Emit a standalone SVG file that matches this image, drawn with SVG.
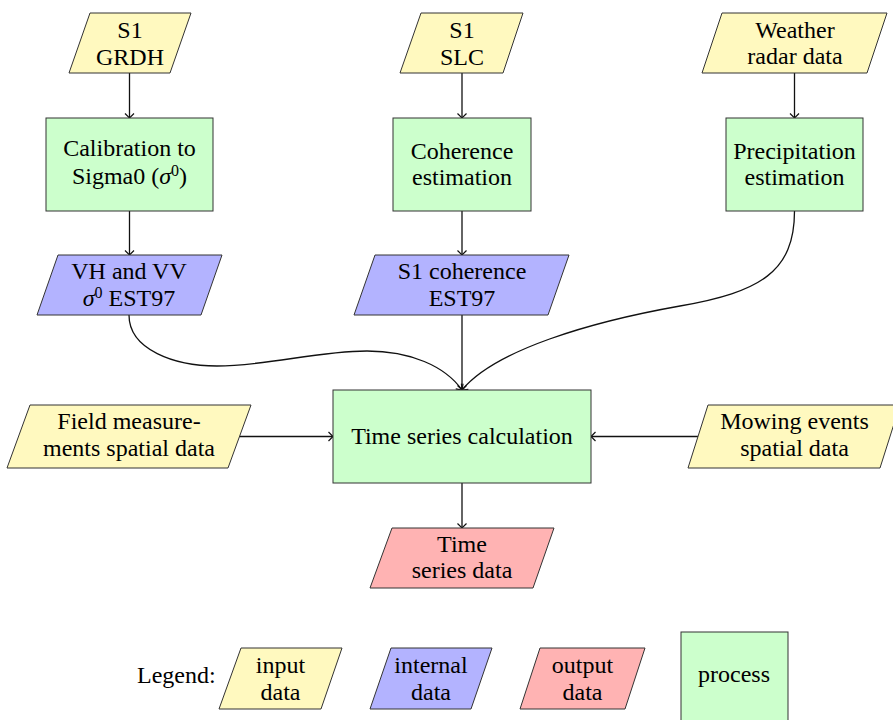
<svg xmlns="http://www.w3.org/2000/svg" width="893" height="720" viewBox="0 0 893 720">
<style>
  text { font-family: 'Liberation Serif', 'Times New Roman', serif; font-size: 24px; fill: #000; text-anchor: middle; }
  .in { fill: #FFF9BF; stroke: #333; stroke-width: 1; }
  .mid { fill: #B3B3FF; stroke: #333; stroke-width: 1; }
  .out { fill: #FFB3B3; stroke: #333; stroke-width: 1; }
  .proc { fill: #CCFFCC; stroke: #333; stroke-width: 1; }
  .conn { fill: none; stroke: #111; stroke-width: 1.3; marker-end: url(#tip); }
  .sup { font-size: 16px; }
  .it { font-style: italic; }
</style>
<defs>
  <marker id="tip" markerUnits="userSpaceOnUse" viewBox="-6 -6 8 12" refX="0" refY="0" markerWidth="8" markerHeight="12" orient="auto">
    <path d="M-4.5,-4.5 Q-1.2,-1.2 0,0 Q-1.2,1.2 -4.5,4.5" fill="none" stroke="#111" stroke-width="1.2"/>
  </marker>
</defs>
<rect width="893" height="720" fill="#fff"/>

<g id="connectors">
  <line class="conn" x1="129.5" y1="73" x2="129.5" y2="118"/>
  <line class="conn" x1="129.5" y1="211" x2="129.5" y2="255"/>
  <line class="conn" x1="462" y1="73" x2="462" y2="118"/>
  <line class="conn" x1="462" y1="211" x2="462" y2="255"/>
  <line class="conn" x1="794.5" y1="73" x2="794.5" y2="118"/>
  <line class="conn" x1="462" y1="315" x2="462" y2="390"/>
  <path class="conn" d="M129,315 C129,350 175,366 217,366 C267,366 317,351 367,351 C410,351 445,366 462,390"/>
  <path class="conn" d="M794.5,211 C794.5,272 760,292 680,306 C590,322 495,350 462,390"/>
  <line class="conn" x1="239.5" y1="436.5" x2="333" y2="436.5"/>
  <line class="conn" x1="698" y1="436.5" x2="591" y2="436.5"/>
  <line class="conn" x1="462" y1="483" x2="462" y2="528"/>
</g>

<g id="s1grdh">
  <polygon class="in" points="90,13 191,13 170,73 69,73"/>
  <text x="130" y="38">S1</text>
  <text x="130" y="65">GRDH</text>
</g>
<g id="s1slc">
  <polygon class="in" points="421,13 523,13 503,73 400,73"/>
  <text x="462" y="38">S1</text>
  <text x="462" y="65">SLC</text>
</g>
<g id="weather">
  <polygon class="in" points="722,13 887,13 867,73 702,73"/>
  <text x="795" y="38">Weather</text>
  <text x="795" y="64">radar data</text>
</g>
<g id="calibration">
  <rect class="proc" x="46" y="118" width="167" height="93"/>
  <text x="129.5" y="156">Calibration to</text>
  <text x="129.5" y="184">Sigma0 (<tspan class="it">σ</tspan><tspan class="sup" baseline-shift="50%">0</tspan>)</text>
</g>
<g id="coherence">
  <rect class="proc" x="393" y="118" width="138" height="93"/>
  <text x="462" y="159">Coherence</text>
  <text x="462" y="185">estimation</text>
</g>
<g id="precipitation">
  <rect class="proc" x="726" y="118" width="137" height="93"/>
  <text x="794.5" y="159">Precipitation</text>
  <text x="794.5" y="185">estimation</text>
</g>
<g id="vhvv">
  <polygon class="mid" points="58,255 222,255 201,315 37,315"/>
  <text x="129" y="279">VH and VV</text>
  <text x="129" y="306"><tspan class="it">σ</tspan><tspan class="sup" baseline-shift="50%">0</tspan> EST97</text>
</g>
<g id="s1coh">
  <polygon class="mid" points="375,255 569,255 548,315 354,315"/>
  <text x="462" y="279">S1 coherence</text>
  <text x="462" y="306">EST97</text>
</g>
<g id="field">
  <polygon class="in" points="30,405 251,405 228,468 7,468"/>
  <text x="129" y="429">Field measure-</text>
  <text x="129" y="456">ments spatial data</text>
</g>
<g id="timeseries">
  <rect class="proc" x="333" y="390" width="258" height="93"/>
  <text x="462" y="444">Time series calculation</text>
</g>
<g id="mowing">
  <polygon class="in" points="708,405 900,405 880,468 688,468"/>
  <text x="794.5" y="429">Mowing events</text>
  <text x="794.5" y="456">spatial data</text>
</g>
<g id="tsdata">
  <polygon class="out" points="392,528 554,528 533,588 370,588"/>
  <text x="462" y="552">Time</text>
  <text x="462" y="578">series data</text>
</g>

<g id="legend">
  <text x="137" y="683" style="text-anchor:start">Legend:</text>
  <g id="leg-input">
    <polygon class="in" points="241,648 342,648 321,709 219,709"/>
    <text x="280.5" y="673">input</text>
    <text x="280.5" y="700">data</text>
  </g>
  <g id="leg-internal">
    <polygon class="mid" points="391,648 492,648 471,709 370,709"/>
    <text x="431" y="673">internal</text>
    <text x="431" y="700">data</text>
  </g>
  <g id="leg-output">
    <polygon class="out" points="540,648 645,648 625,709 520,709"/>
    <text x="582.5" y="673">output</text>
    <text x="582.5" y="700">data</text>
  </g>
  <g id="leg-process">
    <rect class="proc" x="681" y="632" width="107" height="95"/>
    <text x="734" y="682">process</text>
  </g>
</g>
</svg>
